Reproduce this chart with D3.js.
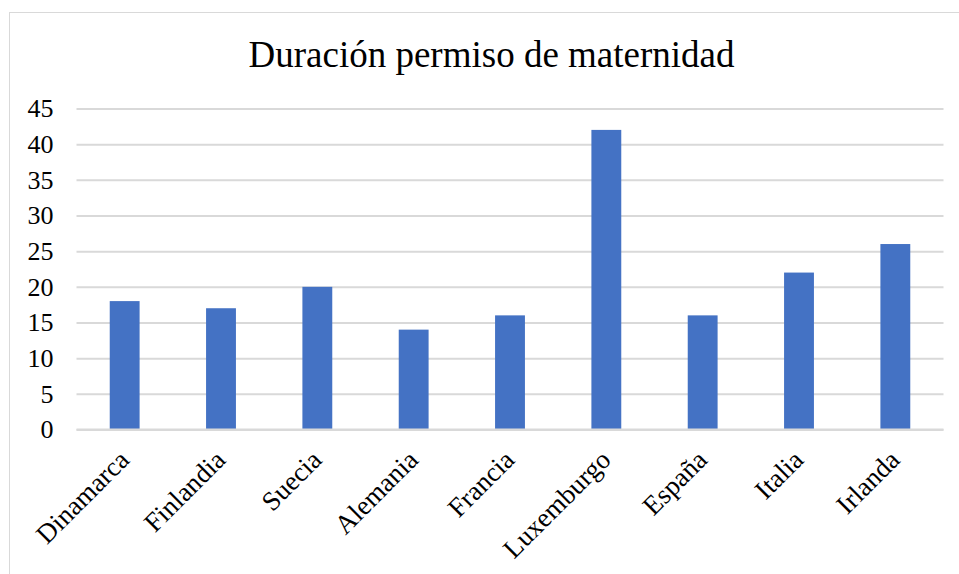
<!DOCTYPE html>
<html><head><meta charset="utf-8">
<script src="https://cdn.jsdelivr.net/npm/d3@7"></script>
<style>html,body{margin:0;padding:0;background:#fff;}svg{display:block;}</style>
</head><body>
<script>
const categories = ["Dinamarca","Finlandia","Suecia","Alemania","Francia","Luxemburgo","España","Italia","Irlanda"];
const values = [18,17,20,14,16,42,16,22,26];
const yTicks = [0,5,10,15,20,25,30,35,40,45];
const title = "Duración permiso de maternidad";

const W = 959, H = 574;
const svg = d3.select("body").append("svg").attr("width", W).attr("height", H);
const font = "'Liberation Serif','Times New Roman',serif";

svg.append("rect").attr("x", 9.5).attr("y", 12.5).attr("width", W + 10).attr("height", H + 10)
  .attr("fill", "#fff").attr("stroke", "#d9d9d9").attr("stroke-width", 1);

const m = {left: 76.5, right: 943.5, top: 108.5, bottom: 429.5};
const x = d3.scaleBand().domain(categories).range([m.left, m.right]).paddingInner(0.69).paddingOuter(0.345);
const y = d3.scaleLinear().domain([0,45]).range([m.bottom, m.top]);

svg.append("text").attr("x", 491.5).attr("y", 67).attr("text-anchor","middle")
  .style("font-family", font).style("font-size", "37px").attr("fill","#000").text(title);

const gy = svg.append("g").attr("transform", `translate(${m.left},0)`)
  .call(d3.axisLeft(y).tickValues(yTicks).tickSize(-(m.right-m.left)).tickPadding(23));
gy.attr("font-family", null).attr("font-size", null);
gy.select(".domain").remove();
gy.selectAll(".tick line").attr("stroke","#d9d9d9").attr("stroke-width",2);
gy.selectAll(".tick text").style("font-family", font).style("font-size", "26px").attr("fill","#000");

svg.selectAll("rect.bar").data(values).join("rect").attr("class","bar")
  .attr("x", (d,i) => x(categories[i])).attr("width", x.bandwidth())
  .attr("y", d => y(d)).attr("height", d => y(0) - y(d)).attr("fill", "#4472C4");

const gx = svg.append("g").attr("transform", `translate(0,${m.bottom})`)
  .call(d3.axisBottom(x).tickSize(0).tickPadding(0));
gx.attr("font-family", null).attr("font-size", null);
gx.select(".domain").remove();
gx.selectAll(".tick text").style("font-family", font).style("font-size", "27px").attr("fill","#000")
  .attr("text-anchor","end").attr("dy", null).attr("y", 0)
  .attr("transform","translate(6,32) rotate(-45)");
svg.append("line").attr("x1", m.left).attr("x2", m.right).attr("y1", m.bottom).attr("y2", m.bottom)
  .attr("stroke","#d9d9d9").attr("stroke-width",2);
</script>
</body></html>
